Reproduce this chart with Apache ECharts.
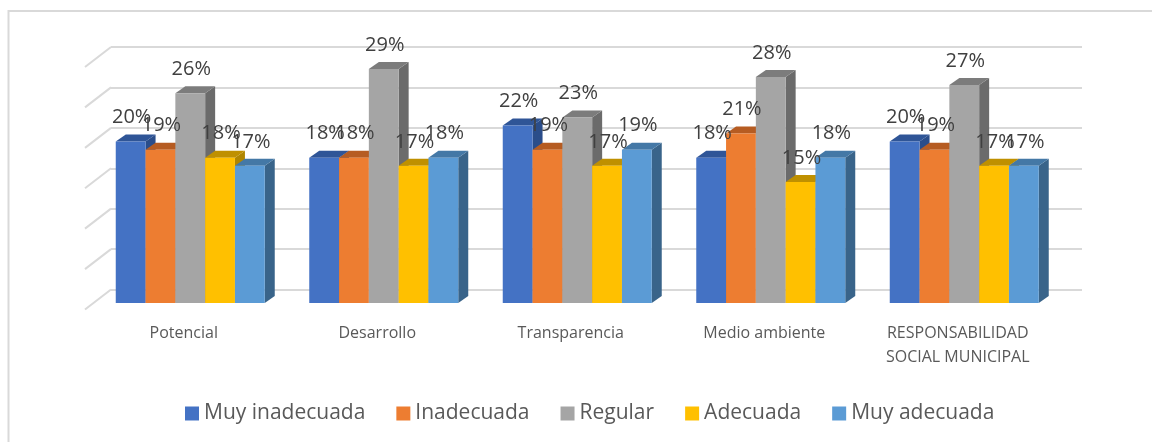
<!DOCTYPE html>
<html>
<head>
<meta charset="utf-8">
<title>Chart</title>
<script src="https://cdn.jsdelivr.net/npm/echarts@6/dist/echarts.min.js"></script>
<style>
  html, body { margin: 0; padding: 0; background: #fff; }
  #main { width: 1152px; height: 442px; }
</style>
</head>
<body>
<div id="main"></div>
<script>
var categories = ['Potencial', 'Desarrollo', 'Transparencia', 'Medio ambiente', 'RESPONSABILIDAD\nSOCIAL MUNICIPAL']
var seriesNames = ['Muy inadecuada', 'Inadecuada', 'Regular', 'Adecuada', 'Muy adecuada']
var muyInadecuada = [20, 18, 22, 18, 20]
var inadecuada = [19, 18, 19, 21, 19]
var regular = [26, 29, 23, 28, 27]
var adecuada = [18, 17, 17, 15, 17]
var muyAdecuada = [17, 18, 19, 18, 17]
var wallTicks = [0, 5, 10, 15, 20, 25, 30]

var seriesValues = [muyInadecuada, inadecuada, regular, adecuada, muyAdecuada]
var frontColors = ['#4472c4', '#ed7d31', '#a5a5a5', '#ffc000', '#5b9bd5']
var topColors = ['#2f5597', '#b65c22', '#7c7c7c', '#bf9000', '#4478a6']
var sideColors = ['#2a4d8a', '#a8531d', '#6b6b6b', '#b08600', '#39648a']

var fontName = '"Open Sans", sans-serif'

// bars sit a little behind the floor's front edge
var shiftX = 6.5
var shiftY = -6
var depthX = 10
var depthY = 7

function barRenderer (index) {
    return function (params, api) {
        var cat = api.value(0)
        var val = api.value(1)
        var w = api.size([1, 0])[0] * 0.154
        var top = api.coord([cat, val])
        var base = api.coord([cat, 0])
        var x0 = top[0] + shiftX + (index - 2.5) * w
        var x1 = x0 + w
        var y0 = top[1] + shiftY
        var y1 = base[1] + shiftY
        return {
            type: 'group',
            children: [
                {
                    type: 'polygon',
                    shape: { points: [[x1, y0], [x1 + depthX, y0 - depthY], [x1 + depthX, y1 - depthY], [x1, y1]] },
                    style: { fill: sideColors[index] }
                },
                {
                    type: 'polygon',
                    shape: { points: [[x0, y0], [x0 + depthX, y0 - depthY], [x1 + depthX, y0 - depthY], [x1, y0]] },
                    style: { fill: topColors[index] }
                },
                {
                    type: 'rect',
                    shape: { x: x0, y: y0, width: w, height: y1 - y0 },
                    style: { fill: frontColors[index] }
                },
                {
                    type: 'text',
                    z2: 100,
                    style: {
                        text: val + '%',
                        x: x0 + w / 2 + 1,
                        y: y0 - 24,
                        align: 'center',
                        verticalAlign: 'middle',
                        fontSize: 20,
                        fontFamily: fontName,
                        fill: '#404040'
                    }
                }
            ]
        }
    }
}

// the short diagonal strokes on the left side wall
function wallSideRenderer (params, api) {
    var y = api.coord([0, api.value(0)])[1]
    var x = params.coordSys.x
    return {
        type: 'line',
        shape: { x1: x, y1: y, x2: x - 26, y2: y + 20 },
        style: { stroke: '#d9d9d9', lineWidth: 2 }
    }
}

var series = [{
    type: 'custom',
    xAxisIndex: 0,
    yAxisIndex: 0,
    silent: true,
    encode: { y: 0 },
    data: wallTicks.map(function (t) { return [t] }),
    renderItem: wallSideRenderer
}]
seriesNames.forEach(function (name, i) {
    series.push({
        name: name,
        type: 'custom',
        xAxisIndex: 1,
        yAxisIndex: 1,
        encode: { x: 0, y: 1 },
        itemStyle: { color: frontColors[i] },
        data: seriesValues[i].map(function (v, c) { return [c, v] }),
        renderItem: barRenderer(i)
    })
})

var option = {
    animation: false,
    backgroundColor: '#fff',
    graphic: [{
        type: 'polyline',
        silent: true,
        shape: { points: [[8.5, 442], [8.5, 11], [1152, 11]] },
        style: { stroke: '#d9d9d9', lineWidth: 2, fill: null }
    }],
    legend: {
        data: seriesNames,
        left: 180,
        top: 398,
        icon: 'rect',
        itemWidth: 14,
        itemHeight: 14,
        itemGap: 31,
        textStyle: { fontSize: 21, fontFamily: fontName, color: '#595959' }
    },
    grid: [
        { left: 111, top: 47, width: 971, height: 242.5 },
        { left: 87, top: 66.9, width: 967.5, height: 242.1 }
    ],
    xAxis: [
        { gridIndex: 0, type: 'category', data: categories, show: false },
        {
            gridIndex: 1,
            type: 'category',
            data: categories,
            axisLine: { show: false },
            axisTick: { show: false },
            axisLabel: {
                interval: 0,
                margin: 12,
                fontSize: 16,
                lineHeight: 24,
                fontFamily: fontName,
                color: '#595959'
            }
        }
    ],
    yAxis: [
        {
            gridIndex: 0,
            type: 'value',
            min: 0,
            max: 30,
            interval: 5,
            axisLine: { show: false },
            axisTick: { show: false },
            axisLabel: { show: false },
            splitLine: { show: true, lineStyle: { color: '#d9d9d9', width: 2 } }
        },
        { gridIndex: 1, type: 'value', min: 0, max: 30, interval: 5, show: false }
    ],
    series: series
}

var myChart = echarts.init(document.getElementById('main'))
myChart.setOption(option)
</script>
</body>
</html>
